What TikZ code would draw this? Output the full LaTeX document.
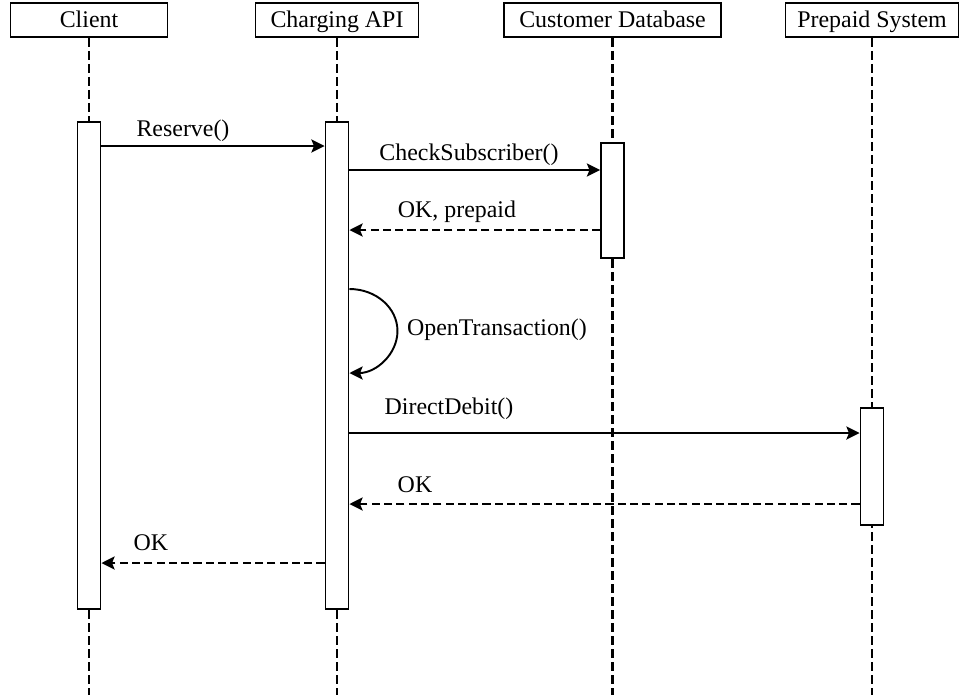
\documentclass[tikz,border=0pt]{standalone}
\usepackage{fontspec}
\setmainfont{Liberation Serif}
\usetikzlibrary{positioning,calc,arrows.meta}

\tikzset{
    every node/.style={font=\fontsize{13.6}{16}\selectfont},
    head/.style={draw, line width=1.1pt, minimum height=0.68cm, inner xsep=0.2cm,
        text height=9pt, text depth=0.4pt},
    act/.style={draw, line width=1.1pt, fill=white, minimum width=0.46cm},
    lifeline/.style={line width=1.2pt, dash pattern=on 5pt off 2.4pt},
    call/.style={line width=1.1pt, -{Stealth[length=7.5pt,width=7.5pt,inset=1.5pt]}},
    reply/.style={call, dash pattern=on 4.6pt off 2.4pt}
}

\begin{document}
\begin{tikzpicture}
    \useasboundingbox (0,0) rectangle (19.26,-13.9);

    % Heads
    \node[head, minimum width=3.14cm] (client) at (1.78,-0.4) {Client};
    \node[head, minimum width=3.26cm] (api) at (6.74,-0.4) {Charging API};
    \node[head, minimum width=4.34cm] (db) at (12.25,-0.4) {Customer Database};
    \node[head, minimum width=3.46cm] (pre) at (17.44,-0.4) {Prepaid System};

    % Lifelines
    \foreach \h in {client,api,db,pre}
        \draw[lifeline] (\h.south) -- (\h |- 0,-13.9);

    % Activations
    \node[act, minimum height=9.74cm] (clientAct) at (1.78,-7.31) {};
    \node[act, minimum height=9.74cm] (apiAct) at (6.74,-7.31) {};
    \node[act, minimum height=2.3cm] (dbAct) at (12.25,-4.01) {};
    \node[act, minimum height=2.34cm] (preAct) at (17.44,-9.33) {};

    % Messages
    \draw[call] (clientAct.east |- 0,-2.92) -- (apiAct.west |- 0,-2.92);
    \node (reserveLbl) at (3.66,-2.62) {Reserve()};

    \draw[call] (apiAct.east |- 0,-3.40) -- (dbAct.west |- 0,-3.40);
    \node (checkLbl) at (9.38,-3.10) {CheckSubscriber()};

    \draw[reply] (dbAct.west |- 0,-4.60) -- (apiAct.east |- 0,-4.60);
    \node (prepaidLbl) at (9.14,-4.24) {OK, prepaid};

    \draw[call] (apiAct.east |- 0,-5.78) arc[start angle=90, end angle=-90, x radius=0.96, y radius=0.84];
    \node (openLbl) at (9.94,-6.60) {OpenTransaction()};

    \draw[call] (apiAct.east |- 0,-8.66) -- (preAct.west |- 0,-8.66);
    \node (debitLbl) at (8.98,-8.18) {DirectDebit()};

    \draw[reply] (preAct.west |- 0,-10.08) -- (apiAct.east |- 0,-10.08);
    \node (okPreLbl) at (8.30,-9.70) {OK};

    \draw[reply] (apiAct.west |- 0,-11.26) -- (clientAct.east |- 0,-11.26);
    \node (okClientLbl) at (3.02,-10.86) {OK};
\end{tikzpicture}
\end{document}
